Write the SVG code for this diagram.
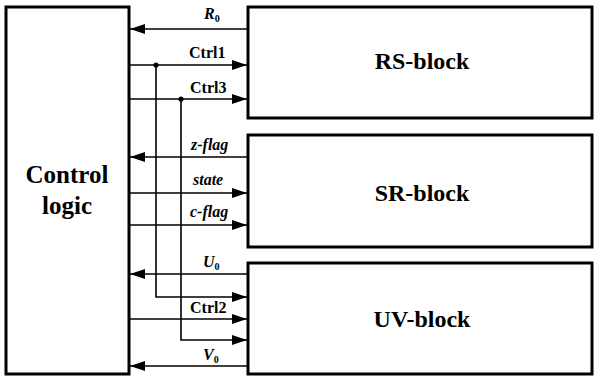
<svg xmlns="http://www.w3.org/2000/svg" width="594" height="377" viewBox="0 0 594 377">
<style>
.box{fill:#fff;stroke:#000;stroke-width:3}
.ln{fill:none;stroke:#000;stroke-width:1.6}
text{font-family:"Liberation Serif","Times New Roman",Times,serif;font-weight:bold;fill:#000}
</style>
<defs>
<marker id="ah" markerWidth="15" markerHeight="10" refX="15" refY="5" orient="auto" markerUnits="userSpaceOnUse">
<path d="M0,0 L15,5 L0,10 Z" fill="#000"/>
</marker>
</defs>
<g id="control">
<rect class="box" x="6" y="7" width="123" height="367"/>
<text x="67" y="183" font-size="25" text-anchor="middle">Control</text>
<text x="67" y="214" font-size="25" text-anchor="middle">logic</text>
</g>
<g id="rs">
<rect class="box" x="248" y="7" width="344" height="111"/>
<text x="422" y="69" font-size="24" text-anchor="middle">RS-block</text>
</g>
<g id="sr">
<rect class="box" x="248" y="135" width="344" height="112"/>
<text x="422" y="201" font-size="24" text-anchor="middle">SR-block</text>
</g>
<g id="uv">
<rect class="box" x="248" y="263" width="344" height="111"/>
<text x="422" y="327" font-size="24" text-anchor="middle">UV-block</text>
</g>
<g id="connectors" font-size="16">
<line class="ln" x1="248" y1="29" x2="130" y2="29" marker-end="url(#ah)"/>
<line class="ln" x1="129" y1="65" x2="247" y2="65" marker-end="url(#ah)"/>
<line class="ln" x1="129" y1="99" x2="247" y2="99" marker-end="url(#ah)"/>
<line class="ln" x1="248" y1="157" x2="130" y2="157" marker-end="url(#ah)"/>
<line class="ln" x1="129" y1="193" x2="247" y2="193" marker-end="url(#ah)"/>
<line class="ln" x1="129" y1="225" x2="247" y2="225" marker-end="url(#ah)"/>
<line class="ln" x1="248" y1="274" x2="130" y2="274" marker-end="url(#ah)"/>
<polyline class="ln" points="156,65 156,297 247,297" marker-end="url(#ah)"/>
<line class="ln" x1="129" y1="319" x2="247" y2="319" marker-end="url(#ah)"/>
<polyline class="ln" points="181,99 181,340 247,340" marker-end="url(#ah)"/>
<line class="ln" x1="248" y1="366" x2="130" y2="366" marker-end="url(#ah)"/>
<circle cx="156" cy="65" r="2.6" fill="#000"/>
<circle cx="181" cy="99" r="2.6" fill="#000"/>
<text x="204" y="19" font-size="16" font-style="italic">R<tspan font-style="normal" font-size="10" dy="3">0</tspan></text>
<text x="189" y="58" font-size="16">Ctrl1</text>
<text x="190" y="93" font-size="16">Ctrl3</text>
<text x="191" y="150" font-size="16" font-style="italic">z-flag</text>
<text x="193" y="185" font-size="16" font-style="italic">state</text>
<text x="190" y="217" font-size="16" font-style="italic">c-flag</text>
<text x="203" y="267" font-size="16" font-style="italic">U<tspan font-style="normal" font-size="10" dy="3">0</tspan></text>
<text x="190" y="313" font-size="16">Ctrl2</text>
<text x="203" y="360" font-size="16" font-style="italic">V<tspan font-style="normal" font-size="10" dy="3">0</tspan></text>
</g>
</svg>
